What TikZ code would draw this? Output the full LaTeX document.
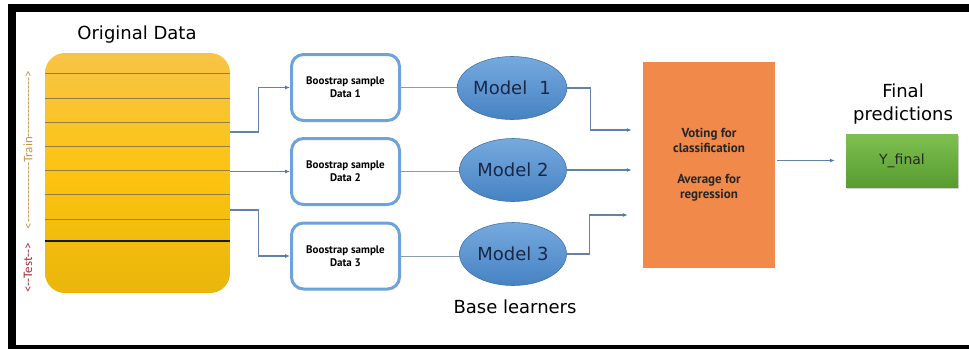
\documentclass[tikz,border=0pt]{standalone}
\usepackage{fontspec}
\setmainfont{DejaVu Sans}
\newfontfamily\smallbold{PT Sans}
\newfontfamily\sidefont{Carlito}
\usetikzlibrary{arrows.meta,shapes.geometric,shadows,calc}

\definecolor{frameblack}{RGB}{0,0,0}
\definecolor{yellowtop}{RGB}{247,196,70}
\definecolor{yellowmid}{RGB}{252,196,16}
\definecolor{yellowbot}{RGB}{234,182,10}
\definecolor{rowline}{RGB}{150,125,70}
\definecolor{trainclr}{RGB}{200,150,75}
\definecolor{testclr}{RGB}{165,45,55}
\definecolor{boxblue}{RGB}{108,163,220}
\definecolor{connclr}{RGB}{98,130,168}
\definecolor{tipclr}{RGB}{78,120,180}
\definecolor{linkgrey}{RGB}{140,155,175}
\definecolor{elltop}{RGB}{118,170,222}
\definecolor{ellbot}{RGB}{70,130,195}
\definecolor{elldraw}{RGB}{70,115,165}
\definecolor{modeltext}{RGB}{25,40,70}
\definecolor{voteorange}{RGB}{240,137,74}
\definecolor{greentop}{RGB}{126,192,80}
\definecolor{greenbot}{RGB}{88,156,48}

\tikzset{
  datablock/.style={rounded corners=20pt, minimum width=185pt, minimum height=240pt,
    top color=yellowtop, bottom color=yellowbot, middle color=yellowmid, inner sep=0pt},
  samplebox/.style={draw=boxblue, line width=3pt, rounded corners=12pt, fill=white,
    minimum width=108pt, minimum height=66pt, align=center, inner sep=0pt,
    font=\smallbold\bfseries\fontsize{11}{13}\selectfont},
  modelell/.style={ellipse, draw=elldraw, line width=0.6pt, top color=elltop, bottom color=ellbot,
    minimum width=107pt, minimum height=63pt, inner sep=0pt,
    font=\fontsize{18}{20}\selectfont, text=modeltext},
  votebox/.style={fill=voteorange, minimum width=132pt, minimum height=206pt, inner sep=0pt,
    align=center, font=\smallbold\bfseries\fontsize{13}{15}\selectfont, text=black!85},
  finalbox/.style={top color=greentop, bottom color=greenbot, minimum width=112pt, minimum height=53pt,
    inner sep=0pt, font=\fontsize{14}{16}\selectfont, text=black!85,
    drop shadow={opacity=0.35, shadow xshift=1pt, shadow yshift=-1.5pt}},
  title/.style={font=\fontsize{18}{23}\selectfont, text=black, align=center, inner sep=0pt},
  sidelabel/.style={rotate=90, inner sep=0pt, font=\sidefont\fontsize{13}{13}\selectfont},
  conn/.style={draw=connclr, line width=1.1pt, -{Latex[length=5pt,width=4pt,color=tipclr]}},
  link/.style={draw=linkgrey, line width=1pt},
  rowrule/.style={draw=rowline, line width=0.6pt},
}

\begin{document}
\begin{tikzpicture}[x=1pt, y=-1pt]
  \useasboundingbox (0,0) rectangle (969,349);
  \fill[white] (0,0) rectangle (969,349);

  % black frame bars
  \fill[frameblack] (8,4) rectangle (969,12);
  \fill[frameblack] (8,4) rectangle (16,349);
  \fill[frameblack] (8,345) rectangle (969,349);

  % original data block with its rows
  \node[title] (origtitle) at (137,35) {Original Data};
  \node[datablock] (orig) at (137.5,173) {};
  \foreach \yy in {73,98,122,146,170,194,219}
    \draw[rowrule] (45,\yy) -- (230,\yy);
  \draw[line width=2pt, black!90] (45,241) -- (230,241);

  % train / test markers
  \node[sidelabel, text=trainclr] (trainlbl) at (28,150) {<---------------Train--------------->};
  \node[sidelabel, text=testclr] (testlbl) at (28,268) {<--Test-->};

  % bootstrap samples
  \node[samplebox] (b1) at (345.5,87.5) {Boostrap sample\\Data 1};
  \node[samplebox] (b2) at (345.5,171.5) {Boostrap sample\\Data 2};
  \node[samplebox] (b3) at (345.5,256) {Boostrap sample\\Data 3};

  % base models
  \node[modelell] (m1) at (512,88) {Model\hspace{0.35em} 1};
  \node[modelell] (m2) at (513,170) {Model 2};
  \node[modelell] (m3) at (513,254) {Model 3};
  \node[title] (baselbl) at (515,307) {Base learners};

  % aggregation
  \node[votebox] (vote) at (709,165) {Voting for\\classification\\[16pt]Average for\\regression};

  % final output
  \node[title] (finaltitle) at (903,104) {Final\\predictions};
  \node[finalbox] (final) at (902,160.5) {Y\_final};

  % data to samples
  \coordinate (s1) at (orig.east |- 0,132);
  \coordinate (s2) at (orig.east |- 0,171.5);
  \coordinate (s3) at (orig.east |- 0,210);
  \draw[conn] (s1) -- ++(28,0) |- (b1.west);
  \draw[conn] (s2) -- (b2.west);
  \draw[conn] (s3) -- ++(28,0) |- (b3.west);

  % samples to models
  \draw[link] (b1.east) -- (m1.west |- b1.east);
  \draw[link] (b2.east) -- (m2.west |- b2.east);
  \draw[link] (b3.east) -- (m3.west |- b3.east);

  % models to aggregation
  \draw[conn, shorten >=11pt] (m1.east) -- ++(23,0) |- (vote.west |- 0,130);
  \draw[conn, shorten >=11pt] (m2.east) -- (vote.west |- m2.east);
  \draw[conn, shorten >=15pt] (m3.east) -- ++(23,0) |- (vote.west |- 0,215);

  % aggregation to final
  \draw[conn, shorten >=11pt, shorten <=2pt] (vote.east |- final.west) -- (final.west);
\end{tikzpicture}
\end{document}
